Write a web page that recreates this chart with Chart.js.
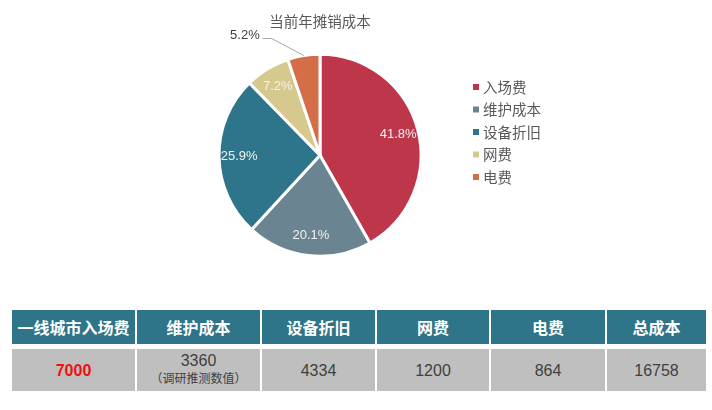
<!DOCTYPE html>
<html>
<head>
<meta charset="utf-8">
<script src="https://cdn.jsdelivr.net/npm/chart.js@4.4.1/dist/chart.umd.min.js"></script>
<style>
  html, body { margin: 0; padding: 0; background: #fff; }
  #wrap { position: relative; width: 712px; height: 410px; overflow: hidden; }
  #pie { position: absolute; left: 0; top: 0; }
  .grid {
    position: absolute; left: 12px; top: 310px;
    display: grid;
    grid-template-columns: 123px 123px 113px 112px 114px 99px;
    grid-template-rows: 34px 42px;
    column-gap: 2px; row-gap: 5px;
    font-family: "Liberation Sans", "Noto Sans CJK SC", sans-serif;
  }
  .grid div { display: flex; flex-direction: column; align-items: center; justify-content: center; }
  .hd { background: #2e7589; color: #fff; font-weight: bold; font-size: 16px; }
  .cell { background: #bfbfbf; color: #404040; font-size: 16px; line-height: 19px; }
  .cell.red { color: #f01010; font-weight: bold; }
  .cell small { font-size: 12px; line-height: 20px; margin-top: -1px; }
</style>
</head>
<body>
<div id="wrap">
  <canvas id="pie" width="712" height="300"></canvas>
  <div class="grid" id="costTable"></div>
</div>
<script>
// Data
const categories = ["入场费", "维护成本", "设备折旧", "网费", "电费"];
const costs = [7000, 3360, 4334, 1200, 864];
const sliceColors = ["#be364a", "#6a8591", "#2e758b", "#d6c98d", "#d46e49"];
const tableHeaders = ["一线城市入场费", "维护成本", "设备折旧", "网费", "电费", "总成本"];
const tableNotes = ["", "（调研推测数值）", "", "", "", ""];

const total = costs.reduce((a, b) => a + b, 0);

// Table
const table = document.getElementById("costTable");
tableHeaders.forEach((h) => {
  const el = document.createElement("div");
  el.className = "hd";
  el.textContent = h;
  table.appendChild(el);
});
costs.concat([total]).forEach((v, i) => {
  const el = document.createElement("div");
  el.className = "cell" + (i === 0 ? " red" : "");
  el.innerHTML = `<span>${v}</span>` + (tableNotes[i] ? `<small>${tableNotes[i]}</small>` : "");
  table.appendChild(el);
});

// Percent labels + leader line for small slices
const pctLabels = {
  id: "pctLabels",
  afterDatasetsDraw(chart) {
    const ctx = chart.ctx;
    const meta = chart.getDatasetMeta(0);
    ctx.save();
    ctx.font = "13px 'Liberation Sans', sans-serif";
    ctx.textBaseline = "middle";
    meta.data.forEach((arc, i) => {
      const p = arc.getProps(["x", "y", "startAngle", "endAngle", "outerRadius"], true);
      const mid = (p.startAngle + p.endAngle) / 2;
      const pct = (costs[i] / total * 100).toFixed(1) + "%";
      if (costs[i] / total < 0.06) {
        // outside label with leader
        const ex = p.x + Math.cos(mid) * p.outerRadius;
        const ey = p.y + Math.sin(mid) * p.outerRadius;
        const kx = ex - 32, ky = ey - 17;
        ctx.strokeStyle = "#a6a6a6";
        ctx.lineWidth = 1;
        ctx.beginPath();
        ctx.moveTo(ex, ey);
        ctx.lineTo(kx, ky);
        ctx.lineTo(kx - 9, ky);
        ctx.stroke();
        ctx.fillStyle = "#404040";
        ctx.textAlign = "right";
        ctx.fillText(pct, kx - 12, ky - 3);
      } else {
        const r = p.outerRadius * 0.8;
        ctx.fillStyle = "#f2f2f2";
        ctx.textAlign = "center";
        ctx.fillText(pct, p.x + Math.cos(mid) * r, p.y + Math.sin(mid) * r);
      }
    });
    ctx.restore();
  },
  afterDraw(chart) {
    // Legend on the right
    const ctx = chart.ctx;
    ctx.save();
    ctx.font = "14.5px 'Noto Sans CJK SC', sans-serif";
    ctx.textBaseline = "middle";
    ctx.textAlign = "left";
    chart.data.labels.forEach((lab, i) => {
      const y = 87 + i * 22.5;
      ctx.fillStyle = chart.data.datasets[0].backgroundColor[i];
      ctx.fillRect(473, y - 3, 6, 6);
      ctx.fillStyle = "#595959";
      ctx.fillText(lab, 483, y);
    });
    ctx.restore();
  }
};

new Chart(document.getElementById("pie"), {
  type: "pie",
  data: {
    labels: categories,
    datasets: [{
      data: costs,
      backgroundColor: sliceColors,
      borderColor: "#ffffff",
      borderWidth: 3,
      radius: 101
    }]
  },
  options: {
    responsive: false,
    animation: false,
    layout: { padding: { left: 220, right: 292, top: 0, bottom: 45 } },
    plugins: {
      legend: { display: false },
      tooltip: { enabled: false },
      title: {
        display: true,
        text: "当前年摊销成本",
        color: "#595959",
        font: { family: "'Noto Sans CJK SC', sans-serif", size: 14.5, weight: "normal", lineHeight: 1.2 },
        padding: { top: 13, bottom: 25 }
      }
    }
  },
  plugins: [pctLabels]
});
</script>
</body>
</html>
